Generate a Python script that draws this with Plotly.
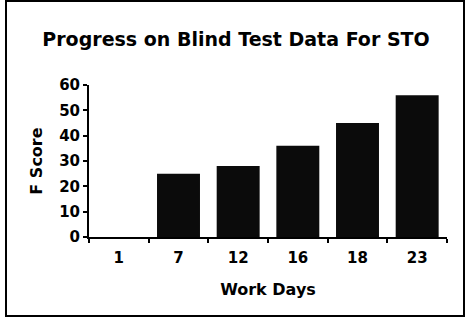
import plotly.graph_objects as go

categories = ["1", "7", "12", "16", "18", "23"]
f_scores = [None, 25, 28, 36, 45, 56]
y_ticks = [0, 10, 20, 30, 40, 50, 60]

FONT = "DejaVu Sans, Arial, sans-serif"

fig = go.Figure()
fig.add_trace(go.Bar(
    x=categories, y=f_scores,
    marker=dict(color="#0b0b0b", line=dict(width=0)),
))

W, H = 472, 322
L, R, T, B = 89, 25, 85, 85
pw, ph = W - L - R, H - T - B

def px_x(p):
    return (p - L) / pw

def px_y(p):
    return (H - B - p) / ph

fig.add_shape(type="rect", xref="paper", yref="paper",
              x0=px_x(6), x1=px_x(464), y0=px_y(316), y1=px_y(1),
              line=dict(color="black", width=2), fillcolor="rgba(0,0,0,0)")

fig.update_layout(
    width=W, height=H,
    margin=dict(l=L, r=R, t=T, b=B),
    paper_bgcolor="white", plot_bgcolor="white",
    bargap=0.28,
    showlegend=False,
    title=dict(text="Progress on Blind Test Data For STO",
               x=0.5, xanchor="center", xref="container",
               y=1 - 39 / H, yanchor="middle", yref="container",
               font=dict(family=FONT, size=19, color="black", weight="bold")),
    font=dict(family=FONT, color="black"),
)
fig.update_xaxes(
    type="category", tickson="boundaries",
    ticks="outside", ticklen=4, tickwidth=2, tickcolor="black",
    ticklabelstandoff=6,
    showline=True, linecolor="black", linewidth=2,
    showgrid=False, zeroline=False,
    tickfont=dict(family=FONT, size=15, color="black", weight="bold"),
    title=dict(text="Work Days", standoff=18,
               font=dict(family=FONT, size=16, color="black", weight="bold")),
)
fig.update_yaxes(
    range=[0, 60], tickvals=y_ticks,
    ticks="outside", ticklen=4, tickwidth=2, tickcolor="black",
    showline=True, linecolor="black", linewidth=2,
    showgrid=False, zeroline=False,
    tickfont=dict(family=FONT, size=15, color="black", weight="bold"),
    title=dict(text="F Score", standoff=13,
               font=dict(family=FONT, size=16, color="black", weight="bold")),
)

fig.write_html("out.html")
